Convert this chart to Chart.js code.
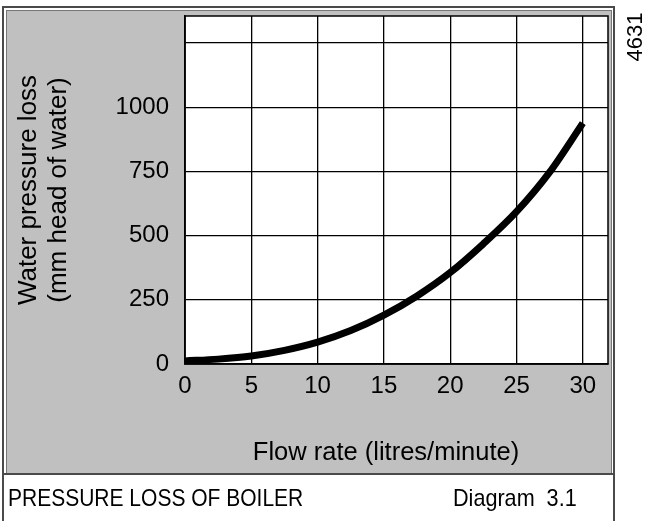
<!DOCTYPE html>
<html><head><meta charset="utf-8">
<script src="https://cdn.jsdelivr.net/npm/chart.js@4.4.1/dist/chart.umd.min.js"></script>
<style>html,body{margin:0;padding:0;background:#fff}#wrap{width:647px;height:521px}</style>
</head><body><div id="wrap"><canvas id="c" width="647" height="521"></canvas></div>
<script>
const flowRate = [0, 2.5, 5, 7.5, 10, 12.5, 15, 17.5, 20, 22.5, 25, 27.5, 30];
const pressureLoss = [12, 19, 31, 53, 85, 130, 190, 265, 356, 468, 593, 747, 938];
const xTicks = [0, 5, 10, 15, 20, 25, 30];
const xTickLabels = ['0', '5', '10', '15', '20', '25', '30'];
const yTicks = [0, 250, 500, 750, 1000, 1250];
const yTickLabels = ['0', '250', '500', '750', '1000', ''];
const yTitle = ['Water pressure loss', '(mm head of water)'];
const xTitle = 'Flow rate (litres/minute)';
const caption = 'PRESSURE LOSS OF BOILER';
const diagramLabel = 'Diagram  3.1';
const refNumber = '4631';

const FONT = '"Liberation Sans", Arial, Helvetica, sans-serif';
const GREY = '#c0c0c0';
const FRAME = '#4a4a4a';

const decor = {
  id: 'decor',
  beforeDraw(chart) {
    const ctx = chart.ctx, a = chart.chartArea;
    ctx.save();
    ctx.fillStyle = '#fff';
    ctx.fillRect(0, 0, chart.width, chart.height);
    ctx.fillStyle = GREY;
    ctx.fillRect(6, 10, 606, 464);
    ctx.fillStyle = '#fff';
    ctx.fillRect(a.left, a.top, a.right - a.left, a.bottom - a.top);
    ctx.restore();
  },
  afterDraw(chart) {
    const ctx = chart.ctx, a = chart.chartArea;
    ctx.save();
    // outer frame
    ctx.strokeStyle = FRAME;
    ctx.lineWidth = 2;
    ctx.beginPath();
    ctx.moveTo(3, 530); ctx.lineTo(3, 7); ctx.lineTo(614, 7); ctx.lineTo(614, 530);
    ctx.stroke();
    ctx.lineWidth = 1;
    ctx.strokeStyle = '#777';
    ctx.strokeRect(6.5, 10.5, 605, 463);
    ctx.strokeStyle = FRAME;
    ctx.lineWidth = 2;
    ctx.beginPath();
    ctx.moveTo(3, 474); ctx.lineTo(614, 474);
    ctx.stroke();
    // plot border
    ctx.strokeStyle = '#000';
    ctx.lineWidth = 1.5;
    ctx.strokeRect(a.left, a.top, a.right - a.left, a.bottom - a.top);
    // x title
    ctx.fillStyle = '#000';
    ctx.textAlign = 'center';
    ctx.textBaseline = 'middle';
    ctx.font = '25.5px ' + FONT;
    ctx.fillText(xTitle, 386, 453);
    // caption (slightly condensed lettering)
    ctx.textBaseline = 'alphabetic';
    ctx.textAlign = 'left';
    ctx.font = '24px ' + FONT;
    ctx.save();
    ctx.translate(8, 506);
    ctx.scale(0.875, 1);
    ctx.fillText(caption, 0, 0);
    ctx.restore();
    ctx.save();
    ctx.translate(453, 506);
    ctx.scale(0.9, 1);
    ctx.fillText(diagramLabel, 0, 0);
    ctx.restore();
    // reference number
    ctx.translate(636, 37);
    ctx.rotate(-Math.PI / 2);
    ctx.textAlign = 'center';
    ctx.textBaseline = 'middle';
    ctx.font = '22px ' + FONT;
    ctx.fillText(refNumber, 0, 0);
    ctx.restore();
  }
};

new Chart(document.getElementById('c'), {
  type: 'line',
  data: {
    datasets: [{
      data: flowRate.map((x, i) => ({ x: x, y: pressureLoss[i] })),
      borderColor: '#000',
      borderWidth: 7,
      borderCapStyle: 'butt',
      pointRadius: 0,
      cubicInterpolationMode: 'monotone',
      fill: false
    }]
  },
  options: {
    responsive: false,
    animation: false,
    devicePixelRatio: 1,
    layout: { padding: { left: 0, top: 16, right: 39, bottom: 0 } },
    plugins: { legend: { display: false }, tooltip: { enabled: false } },
    scales: {
      x: {
        type: 'linear', min: 0, max: 31.9,
        afterBuildTicks: s => { s.ticks = xTicks.map(v => ({ value: v })); },
        afterFit: s => { s.height = 157; s.paddingLeft = 0; s.paddingRight = 0; },
        ticks: {
          callback: (v, i) => xTickLabels[i],
          font: { family: FONT, size: 24 }, color: '#000',
          padding: 8, maxRotation: 0, autoSkip: false
        },
        grid: { color: '#000', lineWidth: 1.3, drawTicks: false },
        border: { display: true, color: '#000', width: 1.5 }
      },
      y: {
        type: 'linear', min: 0, max: 1355,
        afterBuildTicks: s => { s.ticks = yTicks.map(v => ({ value: v })); },
        afterFit: s => { s.width = 185; s.paddingTop = 0; s.paddingBottom = 0; },
        ticks: {
          callback: (v, i) => yTickLabels[i],
          font: { family: FONT, size: 24 }, color: '#000',
          padding: 16, autoSkip: false
        },
        grid: { color: '#000', lineWidth: 1.3, drawTicks: false },
        border: { display: true, color: '#000', width: 1.5 },
        title: {
          display: true, text: yTitle, color: '#000',
          font: { family: FONT, size: 26, lineHeight: 1.154 },
          padding: { top: 14, bottom: 0 }
        }
      }
    }
  },
  plugins: [decor]
});
</script>
</body></html>
